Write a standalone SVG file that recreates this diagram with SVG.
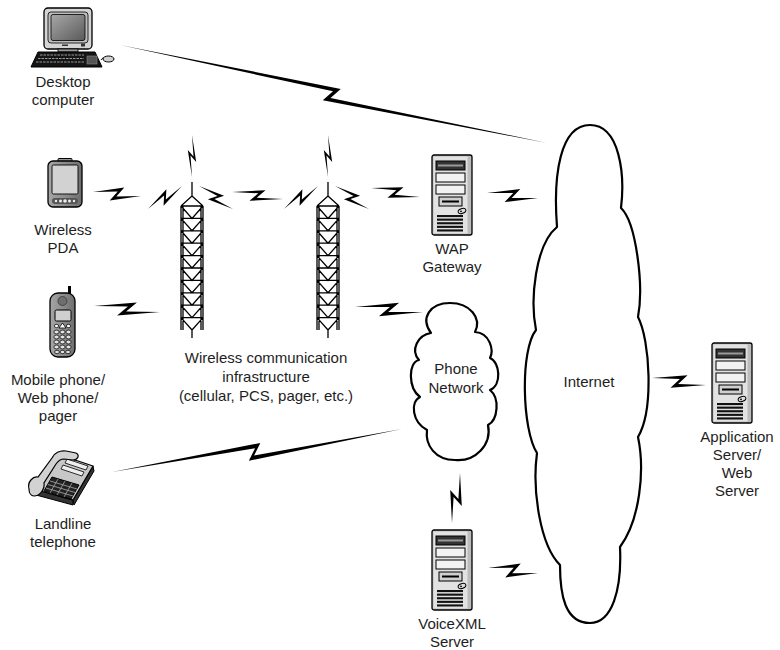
<svg xmlns="http://www.w3.org/2000/svg" xmlns:xlink="http://www.w3.org/1999/xlink" width="780" height="650" viewBox="0 0 780 650">
  <style>
    .lbl { font-family: "Liberation Sans", Arial, Helvetica, sans-serif; font-size: 15px; fill: #1e1e1e; text-anchor: middle; }
    .ln { stroke: #000; stroke-width: 1.3; fill: none; }
    .cloud { fill: #fff; stroke: #000; stroke-width: 2.2; stroke-linejoin: round; }
    .bolt { fill: #000; stroke: none; }
  </style>
  <defs>
    <!-- generic zig-zag radio link, 100 units long, tips at (0,0) and (100,0) -->
    <path id="bz" d="M0,0 L64,-7 L49,2.5 L100,0 L36,7 L51,-2.5 Z"/>

    <linearGradient id="screen" x1="0" y1="0" x2="1" y2="1">
      <stop offset="0" stop-color="#a8a8a8"/>
      <stop offset="1" stop-color="#5a5a5a"/>
    </linearGradient>
    <linearGradient id="greyBody" x1="0" y1="0" x2="1" y2="0">
      <stop offset="0" stop-color="#a6a6a6"/>
      <stop offset="0.5" stop-color="#8c8c8c"/>
      <stop offset="1" stop-color="#6e6e6e"/>
    </linearGradient>

    <!-- tower server unit, 40 x 80 -->
    <g id="server">
      <rect x="0" y="0" width="40" height="80" rx="2" fill="#bcbcbc" stroke="#000" stroke-width="1.3"/>
      <rect x="1.5" y="1.5" width="34" height="77" fill="#e2e2e2"/>
      <rect x="4" y="6" width="29" height="9" fill="#333" stroke="#000" stroke-width="1"/>
      <rect x="6" y="9.5" width="25" height="2" fill="#9a9a9a"/>
      <rect x="4" y="18" width="29" height="9" fill="#f2f2f2" stroke="#000" stroke-width="1"/>
      <rect x="4" y="30" width="29" height="9" fill="#f2f2f2" stroke="#000" stroke-width="1"/>
      <rect x="7" y="42" width="23" height="9" fill="#cfcfcf" stroke="#000" stroke-width="1"/>
      <rect x="10" y="45.5" width="17" height="2" fill="#000"/>
      <ellipse cx="30" cy="56" rx="4" ry="2.4" fill="#ddd" stroke="#000" stroke-width="1" transform="rotate(-20 30 56)"/>
      <circle cx="29" cy="56.3" r="0.9" fill="#000"/>
      <rect x="5" y="60" width="26" height="2.1" fill="#111"/>
      <rect x="5" y="63.6" width="26" height="2.1" fill="#111"/>
      <rect x="5" y="67.2" width="26" height="2.1" fill="#111"/>
      <rect x="5" y="70.8" width="26" height="2.1" fill="#111"/>
      <rect x="5" y="74.4" width="26" height="2.1" fill="#111"/>
    </g>

    <!-- lattice radio mast, origin at the apex of the lattice -->
    <g id="tower">
      <path class="ln" d="M0,-14 V0 L-11,10 M0,0 L11,10
        M-11,10 V134 M-9,10 V134 M9,10 V134 M11,10 V134 M0,134 V142
        M-11,10 H11 M-11,10 L0,22.4 L11,10
        M-11,22.4 H11 M-11,22.4 L0,34.8 L11,22.4
        M-11,34.8 H11 M-11,34.8 L0,47.2 L11,34.8
        M-11,47.2 H11 M-11,47.2 L0,59.6 L11,47.2
        M-11,59.6 H11 M-11,59.6 L0,72 L11,59.6
        M-11,72 H11 M-11,72 L0,84.4 L11,72
        M-11,84.4 H11 M-11,84.4 L0,96.8 L11,84.4
        M-11,96.8 H11 M-11,96.8 L0,109.2 L11,96.8
        M-11,109.2 H11 M-11,109.2 L0,121.6 L11,109.2
        M-11,121.6 H11 M-11,121.6 L0,134 L11,121.6"/>
      <!-- radiation bolts around the top of the mast -->
      <use xlink:href="#bz" class="bolt" transform="translate(0,-61) rotate(90) scale(0.42,0.6)"/>
      <use xlink:href="#bz" class="bolt" transform="translate(-44,13) rotate(-34.1) scale(0.41,0.85)"/>
      <use xlink:href="#bz" class="bolt" transform="translate(7,-10) rotate(34.1) scale(0.41,0.85)"/>
    </g>
  </defs>

  <!-- links -->
  <g id="connectors">
    <!-- desktop to internet -->
    <path class="bolt" transform="translate(120,45) rotate(12.92)" d="M0,0 L225,-6.5 L217,4.5 L438,0 L210,8.5 L218,-2.5 Z"/>
    <!-- landline to phone network -->
    <path class="bolt" transform="translate(112,472) rotate(-8.43)" d="M0,0 L151,-7 L143,4.5 L293,0 L137,9 L145,-2.5 Z"/>
    <!-- PDA to mast 1 -->
    <use xlink:href="#bz" class="bolt" transform="translate(93,192) rotate(4.76) scale(0.482,1.0)"/>
    <!-- mobile phone to mast 1 -->
    <use xlink:href="#bz" class="bolt" transform="translate(94,306) rotate(5.19) scale(0.663,1.05)"/>
    <!-- mast 1 to mast 2 -->
    <use xlink:href="#bz" class="bolt" transform="translate(232,192) rotate(7.82) scale(0.515,0.9)"/>
    <!-- mast 2 to WAP gateway -->
    <use xlink:href="#bz" class="bolt" transform="translate(371,188) rotate(10.4) scale(0.498,0.95)"/>
    <!-- mast 2 to phone network -->
    <use xlink:href="#bz" class="bolt" transform="translate(355,307) rotate(4.2) scale(0.682,1.05)"/>
    <!-- WAP gateway to internet -->
    <use xlink:href="#bz" class="bolt" transform="translate(487,193) rotate(5.6) scale(0.512,1.05)"/>
    <!-- phone network to VoiceXML server -->
    <use xlink:href="#bz" class="bolt" transform="translate(460,473) rotate(99.1) scale(0.506,1.0)"/>
    <!-- VoiceXML server to internet -->
    <use xlink:href="#bz" class="bolt" transform="translate(488,568) rotate(5.7) scale(0.502,1.1)"/>
    <!-- internet to application server -->
    <use xlink:href="#bz" class="bolt" transform="translate(652,378) rotate(7.39) scale(0.545,1.05)"/>
  </g>

  <g id="desktop">
    <rect x="44" y="8" width="48" height="41" rx="4" fill="#d4d4d4" stroke="#000" stroke-width="1.3"/>
    <rect x="48" y="12" width="40" height="31" rx="3" fill="#bdbdbd" stroke="#000" stroke-width="0.8"/>
    <rect x="51" y="14.5" width="34" height="26" rx="2" fill="url(#screen)" stroke="#000" stroke-width="0.8"/>
    <rect x="62" y="44.5" width="6" height="1.5" fill="#333"/>
    <rect x="81" y="43.5" width="4" height="3" fill="#333"/>
    <rect x="58" y="49" width="20" height="3" fill="#9a9a9a" stroke="#000" stroke-width="0.8"/>
    <polygon points="38,52 95,52 102,67 31,67" fill="#151515" stroke="#000"/>
    <g stroke="#9a9a9a" stroke-width="1" stroke-dasharray="2.5 1">
      <line x1="40" y1="55" x2="84" y2="55"/>
      <line x1="38" y1="58.5" x2="84" y2="58.5"/>
      <line x1="36" y1="62" x2="84" y2="62"/>
    </g>
    <rect x="87" y="56" width="10" height="8" fill="#555" stroke="#888" stroke-width="0.6"/>
    <path d="M101,60 C103,57 104,58 103,58" fill="none" stroke="#000"/>
    <ellipse cx="108.5" cy="59" rx="5.5" ry="3" fill="#cfcfcf" stroke="#000"/>
    <text class="lbl" x="63" y="87">Desktop</text>
    <text class="lbl" x="63" y="105">computer</text>
  </g>

  <g id="pda">
    <rect x="58" y="158.5" width="14" height="4" rx="1" fill="#999" stroke="#000"/>
    <rect x="48" y="161" width="34" height="46" rx="5" fill="url(#greyBody)" stroke="#000" stroke-width="1.3"/>
    <rect x="52" y="165" width="26" height="29" rx="1.5" fill="#d2d2d2" stroke="#000" stroke-width="0.9"/>
    <rect x="52" y="198" width="26" height="6" rx="3" fill="#555"/>
    <g fill="#eee">
      <circle cx="56" cy="201" r="1.2"/>
      <circle cx="60.5" cy="201" r="1.5"/>
      <circle cx="65" cy="201" r="1.8"/>
      <circle cx="69.5" cy="201" r="1.5"/>
      <circle cx="74" cy="201" r="1.2"/>
    </g>
    <text class="lbl" x="63" y="235">Wireless</text>
    <text class="lbl" x="63" y="253">PDA</text>
  </g>

  <g id="mobile">
    <rect x="68" y="286" width="3" height="10" fill="#000"/>
    <rect x="50" y="293" width="25" height="64" rx="8" fill="url(#greyBody)" stroke="#000" stroke-width="1.3"/>
    <circle cx="62.5" cy="301" r="4.5" fill="#6e6e6e" stroke="#444"/>
    <rect x="55" y="310" width="16" height="11" rx="1.5" fill="#cfcfcf" stroke="#000"/>
    <polygon points="62.5,323 66,328 59,328" fill="#fff" stroke="#000" stroke-width="0.8"/>
    <ellipse cx="56.5" cy="326" rx="2.2" ry="1.6" fill="#fff" stroke="#000" stroke-width="0.7"/>
    <ellipse cx="68.5" cy="326" rx="2.2" ry="1.6" fill="#fff" stroke="#000" stroke-width="0.7"/>
    <g fill="#e2e2e2" stroke="#000" stroke-width="0.7">
      <ellipse cx="56.5" cy="332" rx="2.6" ry="1.9"/><ellipse cx="62.5" cy="332" rx="2.6" ry="1.9"/><ellipse cx="68.5" cy="332" rx="2.6" ry="1.9"/>
      <ellipse cx="56.5" cy="337" rx="2.6" ry="1.9"/><ellipse cx="62.5" cy="337" rx="2.6" ry="1.9"/><ellipse cx="68.5" cy="337" rx="2.6" ry="1.9"/>
      <ellipse cx="56.5" cy="342" rx="2.6" ry="1.9"/><ellipse cx="62.5" cy="342" rx="2.6" ry="1.9"/><ellipse cx="68.5" cy="342" rx="2.6" ry="1.9"/>
      <ellipse cx="56.5" cy="347" rx="2.6" ry="1.9"/><ellipse cx="62.5" cy="347" rx="2.6" ry="1.9"/><ellipse cx="68.5" cy="347" rx="2.6" ry="1.9"/>
      <ellipse cx="57" cy="352" rx="2.4" ry="1.7"/><ellipse cx="62.5" cy="352" rx="2.4" ry="1.7"/><ellipse cx="68" cy="352" rx="2.4" ry="1.7"/>
    </g>
    <text class="lbl" x="58" y="385">Mobile phone/</text>
    <text class="lbl" x="58" y="403">Web phone/</text>
    <text class="lbl" x="58" y="421">pager</text>
  </g>

  <g id="landline">
    <polygon points="37,490 73,500 73,505 36,495" fill="#333" stroke="#000"/>
    <polygon points="73,500 93,466 94,471 74,505" fill="#333" stroke="#000"/>
    <polygon points="37,490 60,455 93,466 73,500" fill="#c8c8c8" stroke="#000" stroke-width="1.2"/>
    <polygon points="67,459 88,466 86,470 65,463" fill="#eee" stroke="#000" stroke-width="0.8"/>
    <polygon points="63,465 84,472 82,476 61,469" fill="#eee" stroke="#000" stroke-width="0.8"/>
    <polygon points="52,477 79,485 71,499 44,491" fill="#222" stroke="#000"/>
    <g stroke="#aaa" stroke-width="0.8">
      <line x1="50" y1="481" x2="77" y2="489"/>
      <line x1="48" y1="484.5" x2="75" y2="492.5"/>
      <line x1="46" y1="488" x2="73" y2="496"/>
      <line x1="58" y1="479" x2="50" y2="493"/>
      <line x1="65" y1="481" x2="57" y2="495"/>
      <line x1="72" y1="483" x2="64" y2="497"/>
    </g>
    <path d="M29,489 C27,482 33,476 38,477 L52,458 C54,453 60,450 66,451 L76,453 C80,455 78,460 73,460 L64,459 C60,459 58,461 56,464 L44,483 C45,489 40,496 34,496 C31,496 29,493 29,489 Z" fill="#d2d2d2" stroke="#000" stroke-width="1.2"/>
    <text class="lbl" x="63" y="529">Landline</text>
    <text class="lbl" x="63" y="547">telephone</text>
  </g>

  <g id="mast-1">
    <use xlink:href="#tower" transform="translate(192,196)"/>
  </g>
  <g id="mast-2">
    <use xlink:href="#tower" transform="translate(328,196)"/>
  </g>
  <g id="wireless-infra">
    <text class="lbl" x="266" y="363">Wireless communication</text>
    <text class="lbl" x="266" y="382">infrastructure</text>
    <text class="lbl" x="266" y="401">(cellular, PCS, pager, etc.)</text>
  </g>

  <g id="wap-gateway">
    <use xlink:href="#server" transform="translate(432,155)"/>
    <text class="lbl" x="452" y="254">WAP</text>
    <text class="lbl" x="452" y="272">Gateway</text>
  </g>

  <g id="phone-network">
    <path class="cloud" d="M431,333 C420,318 430,303 450,303 C470,303 482,318 475,332 C490,333 494,350 490,358 C500,362 502,385 490,390 C500,398 498,420 488,425 C492,445 475,462 455,460 C435,460 425,445 427,430 C412,422 410,402 420,397 C408,388 408,362 419,360 C410,350 418,335 431,333 Z"/>
    <text class="lbl" x="456" y="374">Phone</text>
    <text class="lbl" x="456" y="393">Network</text>
  </g>

  <g id="internet">
    <path class="cloud" d="M557,227 C553,175 560,125 590,125 C620,125 625,175 621,208 C636,222 644,285 638,317 C650,340 654,410 638,437 C645,470 640,520 620,547 C622,590 612,623 590,623 C565,623 560,595 560,565 C540,545 532,490 537,453 C522,430 520,350 536,330 C530,300 535,245 557,227 Z"/>
    <text class="lbl" x="589" y="387">Internet</text>
  </g>

  <g id="voicexml-server">
    <use xlink:href="#server" transform="translate(432,530)"/>
    <text class="lbl" x="452" y="629">VoiceXML</text>
    <text class="lbl" x="452" y="647">Server</text>
  </g>

  <g id="app-server">
    <use xlink:href="#server" transform="translate(712,343)"/>
    <text class="lbl" x="737" y="442">Application</text>
    <text class="lbl" x="737" y="460">Server/</text>
    <text class="lbl" x="737" y="478">Web</text>
    <text class="lbl" x="737" y="496">Server</text>
  </g>
</svg>
